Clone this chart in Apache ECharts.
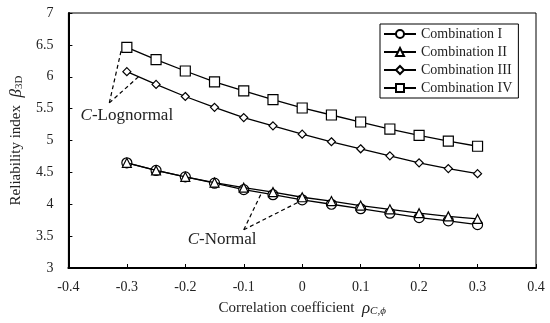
<!DOCTYPE html>
<html><head><meta charset="utf-8">
<script src="https://cdn.jsdelivr.net/npm/echarts@6/dist/echarts.min.js"></script>
<style>html,body{margin:0;padding:0;background:#fff}#c{width:550px;height:323px}</style>
</head><body><div id="c"></div>
<script>
const rho = [-0.3,-0.25,-0.2,-0.15,-0.1,-0.05,0,0.05,0.1,0.15,0.2,0.25,0.3];
const combI   = [4.65,4.53,4.43,4.33,4.23,4.15,4.07,4.00,3.93,3.86,3.79,3.74,3.68];
const combII  = [4.65,4.53,4.43,4.34,4.26,4.19,4.11,4.05,3.98,3.92,3.86,3.81,3.77];
const combIII = [6.08,5.88,5.69,5.52,5.36,5.23,5.10,4.98,4.87,4.76,4.65,4.56,4.48];
const combIV  = [6.46,6.27,6.09,5.92,5.78,5.64,5.51,5.40,5.29,5.18,5.08,4.99,4.91];
const names = ['Combination I','Combination II','Combination III','Combination IV'];
const symbols = ['circle','triangle','diamond','rect'];
const sizes = [10,9,8,10];
const ff = '"Liberation Serif", "DejaVu Serif", serif';

const chart = echarts.init(document.getElementById('c'));
const mk = (vals, i) => ({
  name: names[i], type: 'line', data: rho.map((x, k) => [x, vals[k]]),
  symbol: symbols[i], symbolSize: sizes[i], showSymbol: true,
  lineStyle: {color: '#000', width: 1.3},
  itemStyle: {color: '#fff', borderColor: '#000', borderWidth: 1.2},
  z: 3 + i, animation: false
});
const dash = {color: '#000', width: 1.2, type: [4, 3]};
chart.setOption({
  animation: false,
  grid: {left: 61, right: 14, top: 13, bottom: 55, show: true, borderColor: '#000', borderWidth: 1},
  legend: {
    orient: 'vertical', left: 380, top: 24, data: names,
    borderColor: '#000', borderWidth: 1, padding: [3, 6, 3, 3], itemGap: 4,
    itemWidth: 32, itemHeight: 10,
    textStyle: {fontFamily: ff, fontSize: 14, color: '#222'}
  },
  xAxis: {
    type: 'value', min: -0.4, max: 0.4, interval: 0.1,
    axisLine: {onZero: false, lineStyle: {color: '#000', width: 2}},
    axisTick: {inside: true, length: 4, lineStyle: {color: '#000', width: 1}},
    splitLine: {show: false},
    axisLabel: {fontFamily: ff, fontSize: 14, color: '#222', margin: 12},
    name: 'Correlation coefficient  {r|ρ}{s|C,ϕ}', nameLocation: 'middle', nameGap: 32,
    nameTextStyle: {fontFamily: ff, fontSize: 15, color: '#222',
      rich: {r: {fontFamily: ff, fontSize: 17, fontStyle: 'italic', color: '#222'},
             s: {fontFamily: ff, fontSize: 11, fontStyle: 'italic', color: '#222', verticalAlign: 'bottom', padding: [6, 0, 0, 0]}}}
  },
  yAxis: {
    type: 'value', min: 3, max: 7, interval: 0.5,
    axisLine: {show: true, onZero: false, lineStyle: {color: '#000', width: 2}},
    axisTick: {show: true, inside: true, length: 4, lineStyle: {color: '#000', width: 1}},
    splitLine: {show: false},
    axisLabel: {fontFamily: ff, fontSize: 14, color: '#222', margin: 15},
    name: 'Reliability index  {b|β}{s|3D}', nameLocation: 'middle', nameGap: 28,
    nameTextStyle: {fontFamily: ff, fontSize: 15, color: '#222',
      rich: {b: {fontFamily: ff, fontSize: 17, fontStyle: 'italic', color: '#222'},
             s: {fontFamily: ff, fontSize: 11, color: '#222', verticalAlign: 'bottom', padding: [6, 0, 0, 0]}}}
  },
  series: [
    mk(combI, 0), mk(combII, 1), mk(combIII, 2), mk(combIV, 3),
    {
      type: 'line', data: [], silent: true, animation: false,
      markLine: {
        silent: true, symbol: ['none', 'none'], lineStyle: dash, label: {show: false},
        data: [
          [{coord: [-0.330, 5.59]}, {coord: [-0.309, 6.44]}],
          [{coord: [-0.330, 5.59]}, {coord: [-0.280, 6.00]}],
          [{coord: [-0.100, 3.60]}, {coord: [-0.070, 4.17]}],
          [{coord: [-0.100, 3.60]}, {coord: [-0.005, 4.04]}]
        ]
      },
      markPoint: {
        silent: true, symbol: 'circle', symbolSize: 1,
        itemStyle: {color: 'transparent'},
        data: [
          {coord: [-0.30, 5.39], label: {show: true, formatter: '{i|C}-Lognormal'}},
          {coord: [-0.137, 3.44], label: {show: true, formatter: '{i|C}-Normal'}}
        ],
        label: {show: true, position: 'inside', fontFamily: ff, fontSize: 17, color: '#222',
          rich: {i: {fontFamily: ff, fontSize: 17, fontStyle: 'italic', color: '#222'}}}
      }
    }
  ]
});
</script></body></html>
